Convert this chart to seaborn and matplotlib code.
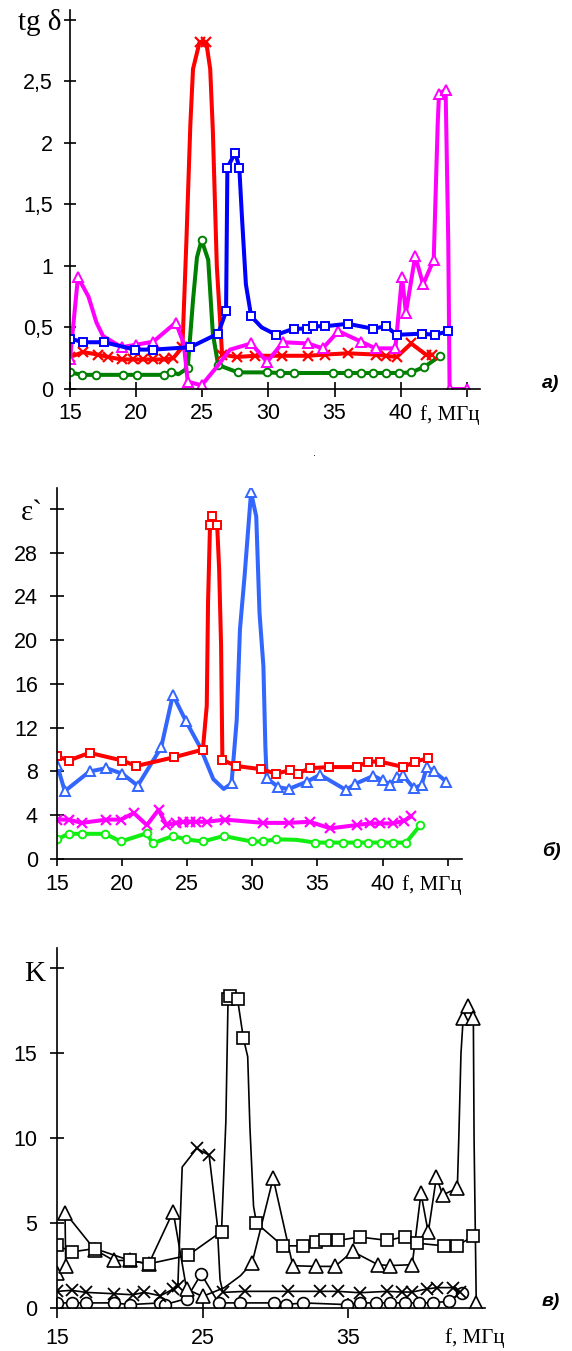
import seaborn as sns
import matplotlib.pyplot as plt

# ---------- а) tg δ ----------
a_red_f = [15.0, 16.0, 17.1, 17.9, 18.9, 19.8, 20.5, 21.3, 22.1, 22.8, 23.5, 23.8, 24.1, 24.3, 24.8, 25.3,
           25.6, 25.8, 26.1, 26.5, 27.6, 29.0, 31.0, 33.0, 34.3, 36.0, 38.1, 38.9, 39.7, 40.8, 41.9, 42.4]
a_red_v = [0.26, 0.30, 0.28, 0.26, 0.24, 0.24, 0.24, 0.24, 0.24, 0.25, 0.34, 1.20, 2.15, 2.60, 2.82, 2.82,
           2.60, 2.10, 1.00, 0.28, 0.26, 0.27, 0.27, 0.27, 0.28, 0.29, 0.28, 0.27, 0.26, 0.37, 0.28, 0.28]
a_red_skip = [11, 12, 13, 16, 17, 18]

a_blue_f = [15.0, 16.0, 17.6, 19.9, 21.3, 24.1, 26.2, 26.8, 26.9, 27.5, 27.8, 28.0, 28.3, 28.7, 29.5,
            30.6, 31.9, 32.9, 33.4, 34.3, 36.0, 37.9, 38.9, 39.7, 41.6, 42.6, 43.6]
a_blue_v = [0.41, 0.38, 0.38, 0.32, 0.32, 0.34, 0.45, 0.63, 1.80, 1.92, 1.80, 1.40, 0.85, 0.59, 0.50,
            0.44, 0.49, 0.49, 0.51, 0.51, 0.53, 0.49, 0.51, 0.44, 0.45, 0.44, 0.47]
a_blue_skip = [11, 12, 14]

a_green_f = [15.0, 15.9, 17.0, 19.0, 20.1, 22.1, 22.6, 23.2, 23.9, 24.3, 24.6, 24.95, 25.45, 25.8, 26.2,
             27.7, 29.9, 30.9, 31.9, 34.9, 36.0, 37.0, 37.9, 38.9, 39.9, 40.8, 41.8, 43.0]
a_green_v = [0.135, 0.115, 0.115, 0.115, 0.115, 0.115, 0.14, 0.12, 0.17, 0.72, 1.07, 1.21, 1.05, 0.45, 0.195,
             0.135, 0.135, 0.13, 0.13, 0.13, 0.13, 0.13, 0.13, 0.13, 0.13, 0.135, 0.18, 0.27]
a_green_skip = [7, 9, 10, 12, 13]

a_mag_f = [15.0, 15.6, 16.4, 17.0, 17.5, 18.9, 20.0, 21.3, 23.0, 23.6, 23.9, 24.95, 26.1, 27.1, 28.7,
           29.9, 31.1, 33.0, 34.1, 35.3, 37.0, 38.1, 39.6, 40.1, 40.4, 41.1, 41.7, 42.5, 42.8, 42.9,
           43.4, 43.6, 43.7, 45.0]
a_mag_v = [0.24, 0.91, 0.75, 0.54, 0.43, 0.34, 0.36, 0.385, 0.54, 0.37, 0.06, 0.03, 0.18, 0.32, 0.37,
           0.22, 0.38, 0.37, 0.33, 0.47, 0.385, 0.33, 0.33, 0.91, 0.62, 1.08, 0.85, 1.05, 2.15, 2.40,
           2.43, 1.20, 0.0, 0.0]
a_mag_skip = [2, 3, 4, 9, 12, 13, 28, 31]

a_yticks = [0, 0.5, 1, 1.5, 2, 2.5, 3]
a_ylabels = ["0", "0,5", "1", "1,5", "2", "2,5", ""]

# ---------- б) ε` ----------
b_red_f = [15.0, 15.9, 17.5, 20.0, 21.1, 24.0, 26.2, 26.5, 26.6, 26.75, 26.93, 27.3, 27.45, 27.6, 27.7,
           28.75, 30.7, 31.8, 32.9, 33.5, 34.4, 35.9, 38.0, 38.9, 39.8, 41.6, 42.5, 43.5]
b_red_v = [9.4, 9.0, 9.7, 9.0, 8.5, 9.3, 10.0, 14.0, 23.5, 30.5, 31.3, 30.5, 26.5, 19.5, 9.06,
           8.5, 8.2, 7.8, 8.1, 7.8, 8.3, 8.4, 8.4, 8.9, 8.9, 8.4, 8.9, 9.2]
b_red_skip = [7, 8, 12, 13]

b_blue_f = [15.0, 15.6, 17.5, 18.8, 20.0, 21.2, 23.0, 23.9, 24.9, 26.0, 27.0, 27.8, 28.4, 28.8, 29.05,
            29.4, 29.9, 30.3, 30.55, 30.85, 31.0, 31.1, 32.0, 32.8, 34.2, 35.2, 37.2, 37.9, 39.3, 40.0,
            40.6, 41.1, 41.55, 42.4, 43.0, 43.4, 43.95, 44.9]
b_blue_v = [8.6, 6.2, 8.0, 8.3, 7.8, 6.7, 10.2, 15.0, 12.6, 10.2, 7.3, 6.4, 6.9, 12.7, 21.0,
            25.8, 33.5, 31.3, 22.5, 17.6, 10.3, 7.4, 6.56, 6.4, 7.07, 7.7, 6.3, 6.86, 7.6, 7.2,
            6.77, 7.5, 7.66, 6.47, 6.77, 8.4, 8.0, 7.07]
b_blue_skip = [9, 10, 11, 13, 14, 15, 17, 18, 19, 20]

b_mag_f = [15.0, 15.9, 16.9, 18.8, 19.9, 20.9, 21.9, 22.8, 23.4, 24.1, 24.65, 25.2, 25.7, 26.5, 27.9,
           30.85, 32.8, 34.4, 36.0, 38.0, 39.0, 39.8, 40.8, 41.65, 42.2]
b_mag_v = [3.6, 3.6, 3.3, 3.6, 3.6, 4.2, 3.1, 4.5, 3.1, 3.3, 3.4, 3.4, 3.4, 3.4, 3.6,
           3.3, 3.3, 3.4, 2.8, 3.1, 3.25, 3.25, 3.25, 3.5, 3.9]

b_green_f = [15.0, 15.9, 16.9, 18.7, 19.9, 21.9, 22.35, 23.9, 24.9, 26.2, 27.8, 29.95, 30.85, 31.8, 33.4,
             34.8, 35.9, 36.95, 38.0, 38.9, 39.9, 40.8, 41.8, 42.9]
b_green_v = [1.8, 2.3, 2.3, 2.3, 1.6, 2.35, 1.43, 2.1, 1.8, 1.6, 2.1, 1.6, 1.6, 1.8, 1.75,
             1.5, 1.5, 1.5, 1.5, 1.5, 1.5, 1.5, 1.5, 3.1]
b_green_skip = [14]

b_yticks = [0, 4, 8, 12, 16, 20, 24, 28, 32]
b_ylabels = ["0", "4", "8", "12", "16", "20", "24", "28", ""]

# ---------- в) K ----------
c_sq_f = [15.0, 16.0, 17.6, 20.0, 21.3, 24.0, 26.3, 26.6, 26.75, 26.9, 27.4, 27.8, 28.1, 28.25, 28.5,
          28.7, 30.5, 31.9, 32.8, 33.4, 34.3, 35.8, 37.7, 38.9, 39.7, 41.6, 42.5, 43.6]
c_sq_v = [3.7, 3.3, 3.5, 2.8, 2.6, 3.1, 4.5, 11.0, 18.2, 18.4, 18.2, 15.9, 14.8, 10.7, 6.0,
          5.0, 3.66, 3.66, 3.86, 3.98, 3.98, 4.18, 3.98, 4.2, 3.82, 3.66, 3.66, 4.25]
c_sq_skip = [7, 12, 13, 14]

c_tri_f = [15.0, 15.6, 15.55, 17.6, 18.9, 20.0, 21.3, 22.98, 23.9, 25.0, 26.5, 27.6, 28.4, 29.85, 31.2,
           32.8, 34.1, 35.3, 37.05, 37.9, 39.4, 40.0, 40.5, 41.06, 41.5, 42.5, 42.6, 42.75, 42.9, 43.2,
           43.6, 43.65, 43.8]
c_tri_v = [2.06, 2.45, 5.62, 3.43, 2.8, 2.8, 2.6, 5.68, 1.12, 0.68, 1.2, 1.9, 2.65, 7.65, 2.49,
           2.45, 2.45, 3.33, 2.55, 2.5, 2.55, 6.76, 4.45, 7.7, 6.66, 7.06, 10.0, 15.0, 17.05, 17.8,
           17.05, 9.9, 0.3]
c_tri_skip = [10, 11, 26, 27, 31]

c_x_f = [15.0, 16.0, 17.0, 18.9, 20.2, 21.0, 22.1, 23.0, 23.3, 23.6, 24.6, 25.45, 26.0, 26.2, 26.4,
         27.9, 30.9, 33.05, 34.3, 35.8, 37.7, 38.7, 39.4, 40.4, 41.1, 42.2, 42.7]
c_x_v = [0.98, 1.04, 0.92, 0.84, 0.78, 0.92, 0.72, 1.12, 1.27, 8.3, 9.4, 9.0, 5.0, 1.66, 0.92,
         0.98, 0.98, 0.98, 0.98, 0.9, 0.98, 0.94, 0.94, 1.12, 1.2, 1.2, 0.94]
c_x_skip = [9, 12, 13]

c_circ_f = [15.0, 16.0, 17.0, 18.9, 20.0, 22.1, 22.4, 23.9, 24.9, 26.1, 27.6, 29.9, 30.7, 31.9, 34.9,
            35.8, 36.9, 37.9, 38.9, 39.9, 40.8, 41.9, 42.8]
c_circ_v = [0.3, 0.3, 0.3, 0.3, 0.2, 0.3, 0.2, 0.55, 2.0, 0.3, 0.3, 0.3, 0.2, 0.3, 0.2,
            0.3, 0.3, 0.3, 0.3, 0.3, 0.3, 0.4, 0.88]

c_yticks = [0, 5, 10, 15, 20]
c_ylabels = ["0", "5", "10", "15", ""]

sns.set_theme(style="ticks")
plt.rcParams["font.family"] = ["Liberation Sans", "DejaVu Sans"]
plt.rcParams["text.color"] = "black"
plt.rcParams["xtick.color"] = "black"
plt.rcParams["ytick.color"] = "black"
SERIF = ["Liberation Serif", "DejaVu Serif"]

W, H = 572, 1351
fig = plt.figure(figsize=(W / 100, H / 100), dpi=100)


def axes_px(left, top, right, bottom):
    return fig.add_axes([left / W, 1 - bottom / H, (right - left) / W, (bottom - top) / H])


def draw(ax, f, v, color, marker, lw, ms, skip=(), mew=1.4):
    keep = [i for i in range(len(f)) if i not in skip]
    sns.lineplot(x=f, y=v, ax=ax, sort=False, estimator=None, color=color, lw=lw,
                 marker=marker, markevery=keep, ms=ms, mfc="white", mec=color, mew=mew)


def style(ax, xlim, ylim):
    ax.set_xlim(*xlim)
    ax.set_ylim(*ylim)
    ax.spines[["top", "right"]].set_visible(False)
    for s in ("left", "bottom"):
        ax.spines[s].set_linewidth(1.2)
        ax.spines[s].set_color("black")
        ax.spines[s].set_zorder(5)
    ax.set_xlabel("")
    ax.set_ylabel("")
    ax.patch.set_alpha(0)


def ftext(x, y, s, **kw):
    fig.text(x / W, 1 - y / H, s, **kw)


# ---- panel а ----
ax = axes_px(70, 10, 480, 389)
draw(ax, a_green_f, a_green_v, "#008000", "o", 2.9, 5.5, a_green_skip)
draw(ax, a_red_f, a_red_v, "#ff0000", "x", 2.9, 7, a_red_skip, mew=1.6)
draw(ax, a_mag_f, a_mag_v, "#ff00ff", "^", 2.9, 6.5, a_mag_skip)
draw(ax, a_blue_f, a_blue_v, "#0000ff", "s", 2.9, 5.5, a_blue_skip)
style(ax, (15, 46.0), (0, 3.08))
ax.set_yticks(a_yticks, a_ylabels)
ax.set_xticks([15, 20, 25, 30, 35, 40, 45], ["15", "20", "25", "30", "35", "40", ""])
ax.tick_params(axis="y", direction="inout", length=8.6, width=1.2, pad=8, labelsize=15.5)
ax.tick_params(axis="x", direction="inout", length=10.8, width=1.2, pad=5, labelsize=15.5)
ax.annotate("tg δ", xy=(15, 3), xytext=(-5.8, -7.2), textcoords="offset points",
            ha="right", va="baseline", fontsize=21, family=SERIF)
ftext(450, 420, "f, МГц", ha="center", va="baseline", fontsize=15, family=SERIF)
ftext(551, 383, "а)", ha="center", va="center", fontsize=14, fontweight="bold", fontstyle="italic")
ftext(315, 453, ".", ha="center", va="center", fontsize=8)

# ---- panel б ----
ax = axes_px(57, 488, 462, 859)
draw(ax, b_green_f, b_green_v, "#11ee11", "o", 2.9, 5.5, b_green_skip)
draw(ax, b_mag_f, b_mag_v, "#ff00ff", "x", 2.9, 7, mew=1.6)
draw(ax, b_blue_f, b_blue_v, "#3366ff", "^", 2.9, 6.5, b_blue_skip)
draw(ax, b_red_f, b_red_v, "#ff0000", "s", 2.9, 5.5, b_red_skip)
style(ax, (15, 46.1), (0, 33.9))
ax.set_yticks(b_yticks, b_ylabels)
ax.set_xticks([15, 20, 25, 30, 35, 40, 45], ["15", "20", "25", "30", "35", "40", ""])
ax.tick_params(axis="y", direction="inout", length=9.4, width=1.2, pad=9, labelsize=15.5)
ax.tick_params(axis="x", direction="out", length=5, width=1.2, pad=5.5, labelsize=15.5)
ax.annotate("ε`", xy=(15, 32), xytext=(-10, -7.9), textcoords="offset points",
            ha="right", va="baseline", fontsize=21, family=SERIF)
ftext(432, 890, "f, МГц", ha="center", va="baseline", fontsize=15, family=SERIF)
ftext(551, 851, "б)", ha="center", va="center", fontsize=14, fontweight="bold", fontstyle="italic")

# ---- panel в ----
ax = axes_px(57, 948, 485, 1308)
draw(ax, c_circ_f, c_circ_v, "black", "o", 1.2, 8.5, mew=1.2)
draw(ax, c_x_f, c_x_v, "black", "x", 1.2, 9, c_x_skip, mew=1.3)
draw(ax, c_tri_f, c_tri_v, "black", "^", 1.2, 9.5, c_tri_skip, mew=1.2)
draw(ax, c_sq_f, c_sq_v, "black", "s", 1.2, 8.5, c_sq_skip, mew=1.2)
style(ax, (15, 44.4), (0, 21.2))
ax.set_yticks(c_yticks, c_ylabels)
ax.set_xticks([15, 25, 35], ["15", "25", "35"])
ax.tick_params(axis="y", direction="inout", length=9.4, width=1.2, pad=9.7, labelsize=15.5)
ax.tick_params(axis="x", direction="inout", length=14.4, width=1.2, pad=7.5, labelsize=15.5)
ax.annotate("K", xy=(15, 20), xytext=(-8.6, -8.9), textcoords="offset points",
            ha="right", va="baseline", fontsize=21, family=SERIF)
ftext(475, 1343, "f, МГц", ha="center", va="baseline", fontsize=15, family=SERIF)
ftext(551, 1301, "в)", ha="center", va="center", fontsize=14, fontweight="bold", fontstyle="italic")

fig.savefig("out.png", dpi=100)
